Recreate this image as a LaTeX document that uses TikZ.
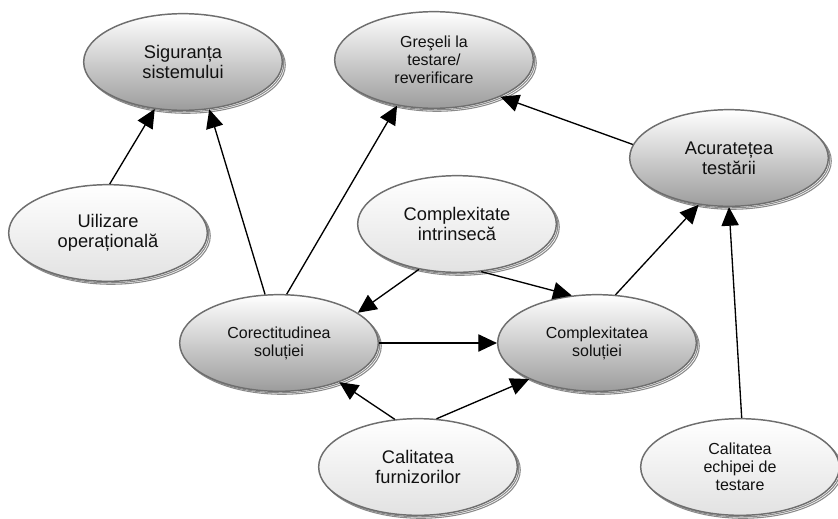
\documentclass[tikz,border=0pt]{standalone}
\usepackage{fontspec}
\setmainfont{Liberation Sans}
\usetikzlibrary{arrows.meta, shapes.geometric, shadows}
\definecolor{ink}{HTML}{111111}
\definecolor{rim}{HTML}{6E6E6E}
\definecolor{shade}{HTML}{9C9C9C}
\definecolor{shadelt}{HTML}{E2E2E2}
\definecolor{ghost}{HTML}{8A8A8A}
\tikzset{
  ebase/.style={ellipse, draw=rim, line width=1.1pt, minimum width=149pt, minimum height=72.5pt,
                inner sep=0pt, align=center, text=ink,
                double copy shadow={shadow xshift=1.1pt, shadow yshift=-1.1pt, draw=ghost, fill=white, line width=0.8pt}},
  dnode/.style={ebase, top color=white, bottom color=shade},
  lnode/.style={ebase, top color=white, bottom color=shadelt},
  fbig/.style={font=\fontsize{13.7}{15}\selectfont},
  fsml/.style={font=\fontsize{12}{13.5}\selectfont},
  fl/.style={-{Triangle[length=14pt, width=13pt]}, line width=1pt, draw=black},
}
\begin{document}
\begin{tikzpicture}[x=0.75pt, y=-0.75pt]
  \useasboundingbox (0,0) rectangle (838,518);
  \node[dnode, fbig] (sig)  at (183,62)  {Siguranța\\sistemului};
  \node[dnode, fsml] (gre)  at (434,60)  {Greşeli la\\testare/\\reverificare};
  \node[dnode, fbig] (acu)  at (729,158) {Acuratețea\\testării};
  \node[lnode, fbig] (uti)  at (108,233) {Uilizare\\operațională};
  \node[lnode, fbig] (cin)  at (457,224) {Complexitate\\intrinsecă};
  \node[dnode, fsml] (cor)  at (279,343) {Corectitudinea\\soluției};
  \node[dnode, fsml] (csol) at (597,343) {Complexitatea\\soluției};
  \node[lnode, fbig] (fur)  at (418,467) {Calitatea\\furnizorilor};
  \node[lnode, fsml] (ech)  at (740,467) {Calitatea\\echipei de\\testare};
  \draw[fl] (uti.88) -- (sig.239);   \draw[fl] (cor.106) -- (sig.299);
  \draw[fl] (cor.81) -- (gre.231);   \draw[fl] (acu.172) -- (gre.331);
  \draw[fl] (cin.230) -- (cor.21);   \draw[fl] (cin.297) -- (csol.118);
  \draw[fl] (cor.east) -- (csol.west);
  \draw[fl] (fur.116) -- (cor.327);  \draw[fl] (fur.69) -- (csol.208);
  \draw[fl] (csol.69) -- (acu.237);  \draw[fl] (ech.88) -- (acu.270);
\end{tikzpicture}
\end{document}
